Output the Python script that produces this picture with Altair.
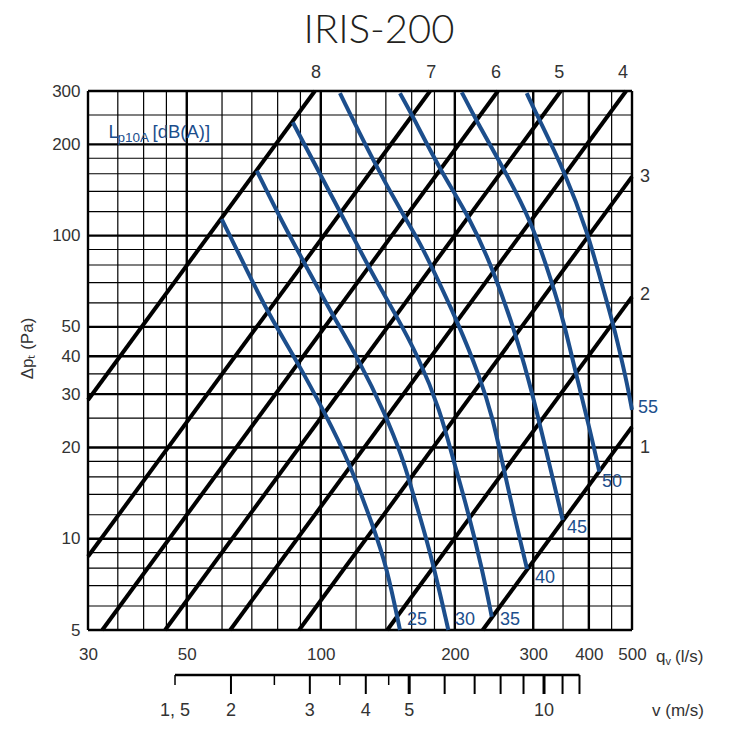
import altair as alt
import pandas as pd

# ------------------------------------------------------------------ data
q_ticks = [30, 50, 100, 200, 300, 400, 500]
p_ticks = [5, 10, 20, 30, 40, 50, 100, 200, 300]

grid_q_thin = [35, 40, 45, 60, 70, 80, 90, 120, 140, 160, 180, 250, 350, 450]
grid_q_bold = [50, 100, 200, 300, 400]
grid_p_thin = [6, 7, 8, 9, 12, 14, 16, 18, 25, 35, 60, 70, 80, 90, 120, 140, 160, 180, 250]
grid_p_bold = [10, 20, 30, 40, 50, 100, 200]
frame_q = [30, 500]
frame_p = [5, 300]

# damper position lines (straight in log-log): start / end points
damper_id = ["1", "2", "3", "4", "5", "6", "7", "8"]
damper_q_start = [231, 141, 89.4, 62.6, 44.7, 32.3, 30, 30]
damper_p_start = [5, 5, 5, 5, 5, 5, 8.74, 28.7]
damper_q_end = [500, 500, 500, 485, 346, 250, 176, 97]
damper_p_end = [23.4, 62.8, 156.6, 300, 300, 300, 300, 300]
damper_label_q = [535, 535, 535, 477, 343, 247.5, 177, 97.5]
damper_label_p = [19.9, 63.7, 156.1, 344, 344, 344, 344, 344]

# sound level curves Lp10A [dB(A)]
lp25_q = [59.9, 68.2, 76.2, 89.0, 102.2, 115.3, 131.2, 140.6, 150.6]
lp25_p = [113.4, 77.0, 55.4, 37.9, 25.9, 18.2, 10.95, 8.09, 5.0]
lp30_q = [71.8, 81.7, 93.7, 105.8, 121.8, 139.4, 153.2, 158.6, 176.0, 193.4]
lp30_p = [163.7, 111.5, 77.0, 55.4, 38.9, 25.9, 18.2, 15.2, 9.18, 5.0]
lp35_q = [86.5, 111.4, 129.0, 146.8, 165.6, 185.3, 198.4, 212.7, 229.8, 242.1]
lp35_p = [236.5, 117.2, 77.0, 55.4, 39.9, 26.6, 18.2, 12.76, 8.09, 5.53]
lp40_q = [110.4, 132.4, 154.6, 167.1, 178.9, 202.0, 227.8, 244.1, 254.9, 271.6, 290.6]
lp40_p = [295, 171.4, 114.3, 94.5, 77.0, 52.7, 34.2, 24.6, 18.2, 11.97, 7.95]
lp45_q = [150.6, 160.0, 185.3, 216.3, 244.1, 275.4, 300.1, 324.3, 349.4]
lp45_p = [295, 251.8, 164.6, 114.3, 77.0, 46.4, 29.4, 18.2, 11.53]
lp50_q = [207.3, 223.2, 257.0, 297.7, 330.2, 350.5, 375.6, 402.4, 422.3]
lp50_p = [297, 240.6, 167.1, 110.9, 70.3, 52.7, 34.2, 22.84, 16.64]
lp55_q = [290.1, 305.5, 353.6, 399.0, 423.8, 453.9, 478.1, 490.6, 500]
lp55_p = [295, 250.5, 162.2, 100.5, 72.5, 51.1, 36.9, 30.9, 26.6]

level_names = ["25", "30", "35", "40", "45", "50", "55"]
level_label_q = [164.5, 210.9, 266.1, 318.9, 376.3, 451.1, 543.3]
level_label_p = [5.39, 5.39, 5.39, 7.42, 10.85, 15.39, 27.0]

# velocity scale v (m/s)
v_span = [1.5, 12]
v_long = [2, 3, 4, 5, 6, 7, 8, 9, 10, 11, 12]
v_long_width = [2, 2, 2, 3, 2, 2, 2, 2, 3, 2, 2]
v_short = [1.5, 2.5, 3.5, 4.5]
v_label_val = [1.5, 2, 3, 4, 5, 10]
v_label_txt = ["1, 5", "2", "3", "4", "5", "10"]

title_text = "IRIS-200"

# ------------------------------------------------------------------ style
W, H = 544, 539
FONT = "Liberation Sans"
BLUE = "#1c4e8c"
GRAY = "#333333"

qscale = alt.Scale(type="log", domain=[30, 500], nice=False)
pscale = alt.Scale(type="log", domain=[5, 300], nice=False)
vscale = alt.Scale(type="log", domain=[0.959, 15.72], nice=False)

yaxis = alt.Axis(values=p_ticks, format="d", title="Δpₜ (Pa)", ticks=False, domain=False,
                 grid=False, labelFont=FONT, labelFontSize=17, labelColor=GRAY,
                 labelPadding=8, labelFlush=False, labelOverlap=False,
                 titleFont=FONT, titleFontSize=17, titleColor=GRAY, titleFontWeight="normal",
                 titleAngle=270, titleX=-61, titleY=257, titleAlign="center",
                 titleBaseline="middle")
xaxis = alt.Axis(values=q_ticks, format="d", title=None, ticks=False, domain=False,
                 grid=False, labelFont=FONT, labelFontSize=17, labelColor=GRAY,
                 labelPadding=16, labelFlush=False, labelOverlap=False)

X = alt.X("q:Q", scale=qscale, axis=None)
Y = alt.Y("p:Q", scale=pscale, axis=yaxis)

# ------------------------------------------------------------------ tables
df_gq_thin = pd.DataFrame({"q": grid_q_thin})
df_gq_bold = pd.DataFrame({"q": grid_q_bold + frame_q})
df_gp_thin = pd.DataFrame({"p": grid_p_thin})
df_gp_bold = pd.DataFrame({"p": grid_p_bold + frame_p})

rows = []
for i, d in enumerate(damper_id):
    rows.append({"id": d, "q": damper_q_start[i], "p": damper_p_start[i]})
    rows.append({"id": d, "q": damper_q_end[i], "p": damper_p_end[i]})
df_damper = pd.DataFrame(rows)
df_damper_lab = pd.DataFrame({"id": damper_id, "q": damper_label_q, "p": damper_label_p})

curves = {"25": (lp25_q, lp25_p), "30": (lp30_q, lp30_p), "35": (lp35_q, lp35_p),
          "40": (lp40_q, lp40_p), "45": (lp45_q, lp45_p), "50": (lp50_q, lp50_p),
          "55": (lp55_q, lp55_p)}
rows = []
for name, (qs, ps) in curves.items():
    for k, (qq, pp) in enumerate(zip(qs, ps)):
        rows.append({"level": name, "order": k, "q": qq, "p": pp})
df_curves = pd.DataFrame(rows)
df_level_lab = pd.DataFrame({"level": level_names, "q": level_label_q, "p": level_label_p})

df_v_line = pd.DataFrame({"v0": [v_span[0]], "v1": [v_span[1]]})
df_v_long = pd.DataFrame({"v": v_long, "w": v_long_width})
df_v_short = pd.DataFrame({"v": v_short})
df_v_lab = pd.DataFrame({"v": v_label_val, "t": v_label_txt})


def label(text, x, y, size, color, align="left"):
    return alt.Chart(pd.DataFrame({"t": [text]})).mark_text(
        font=FONT, fontSize=size, color=color, align=align, baseline="alphabetic").encode(
        x=alt.value(x), y=alt.value(y), text="t:N")


# ------------------------------------------------------------------ layers
grid_q_thin_l = alt.Chart(df_gq_thin).mark_rule(color="black", strokeWidth=1.2).encode(x=X)
grid_q_bold_l = alt.Chart(df_gq_bold).mark_rule(color="black", strokeWidth=2.4).encode(
    x=alt.X("q:Q", scale=qscale, axis=xaxis))
grid_p_thin_l = alt.Chart(df_gp_thin).mark_rule(color="black", strokeWidth=1.2).encode(y=Y)
grid_p_bold_l = alt.Chart(df_gp_bold).mark_rule(color="black", strokeWidth=2.4).encode(y=Y)

damper_l = alt.Chart(df_damper).mark_line(color="black", strokeWidth=4).encode(
    x=X, y=Y, detail="id:N")
curves_l = alt.Chart(df_curves).mark_line(color=BLUE, strokeWidth=4, interpolate="basis").encode(
    x=X, y=Y, detail="level:N", order="order:Q")

damper_txt = alt.Chart(df_damper_lab).mark_text(font=FONT, fontSize=18, color=GRAY,
                                                align="center", baseline="middle").encode(
    x=X, y=Y, text="id:N")
level_txt = alt.Chart(df_level_lab).mark_text(font=FONT, fontSize=18, color=BLUE,
                                              align="center", baseline="middle").encode(
    x=X, y=Y, text="level:N")

title_l = alt.Chart(pd.DataFrame({"t": [title_text]})).mark_text(
    font="Lato", fontSize=40, fontWeight=300, color="#231f20",
    align="center", baseline="alphabetic").encode(
    x=alt.value(291), y=alt.value(-48.5), text="t:N")

legend_L = label("L", 20.5, 47, 18.5, BLUE)
legend_sub = label("p10A", 29.5, 50.5, 13.5, BLUE)
legend_unit = label("[dB(A)]", 64.5, 47, 18.5, BLUE)
q_name = label("q", 568, 571, 17, GRAY)
q_sub = label("v", 577.5, 574, 11, GRAY)
q_unit = label("(l/s)", 587, 571, 17, GRAY)
v_name = label("v (m/s)", 564, 625, 17, GRAY)

XV = alt.X("v:Q", scale=vscale, axis=None)
v_line_l = alt.Chart(df_v_line).mark_rule(color="black", strokeWidth=2.5).encode(
    x=alt.X("v0:Q", scale=vscale, axis=None), x2="v1:Q", y=alt.value(584))
v_long_l = alt.Chart(df_v_long).mark_rule(color="black").encode(
    x=XV, y=alt.value(584), y2=alt.value(603), strokeWidth=alt.StrokeWidth("w:Q", scale=None))
v_short_l = alt.Chart(df_v_short).mark_rule(color="black", strokeWidth=1.5).encode(
    x=XV, y=alt.value(584), y2=alt.value(594))
v_lab_l = alt.Chart(df_v_lab).mark_text(font=FONT, fontSize=18, color=GRAY,
                                        align="center", baseline="alphabetic").encode(
    x=XV, y=alt.value(625), text="t:N")

chart = alt.layer(
    grid_q_thin_l, grid_p_thin_l, grid_q_bold_l, grid_p_bold_l,
    damper_l, curves_l, damper_txt, level_txt, title_l,
    legend_L, legend_sub, legend_unit, q_name, q_sub, q_unit, v_name,
    v_line_l, v_long_l, v_short_l, v_lab_l,
).resolve_scale(x="independent").properties(
    width=W, height=H,
    autosize=alt.AutoSizeParams(type="none"),
    padding={"left": 80, "top": 83, "right": 85, "bottom": 90},
).configure_view(stroke="transparent")

chart.save("out.html", embed_options={"renderer": "svg", "actions": False})
